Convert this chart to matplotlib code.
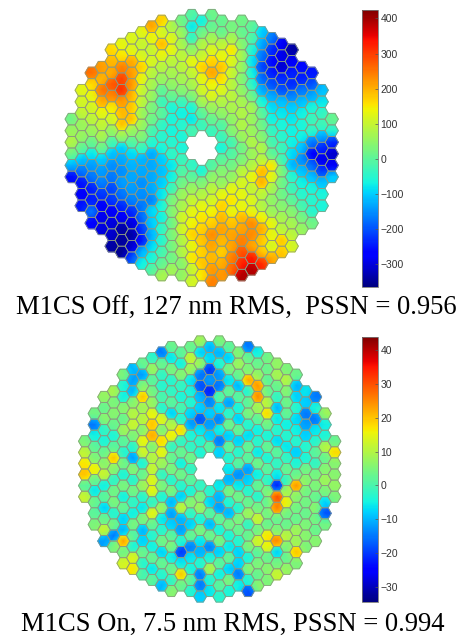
import numpy as np
import matplotlib
matplotlib.use("Agg")
import matplotlib.pyplot as plt
from matplotlib.collections import PolyCollection
from matplotlib.colors import Normalize, ListedColormap
from matplotlib.cm import ScalarMappable
from matplotlib.tri import Triangulation

nan = float("nan")

# half height of every hexagon column, column 0 is the middle one
half_height = [11, 11.5, 11, 10.5, 11, 10.5, 10, 9.5, 9, 8.5, 7, 6.5, 5, 2.5]

# M1CS off, nm, one list per column from left to right, top to bottom
off_cols = [
    [20, 60, 80, 20, -120, -260],
    [125, 110, 95, 60, 55, 5, -110, -170, -250, -280, -250],
    [255, 160, 130, 110, 90, 60, 10, -80, -140, -170, -240, -240, -170, -270],
    [215, 195, 250, 205, 130, 95, 75, 20, -100, -140, -160, -220, -280, -290, -300],
    [165, 190, 205, 275, 235, 145, 110, 50, -20, -110, -150, -170, -210, -220, -280, -300, -310, -340],
    [130, 150, 240, 295, 310, 220, 190, 185, 60, -100, -130, -150, -140, -170, -230, -280, -340, -345, -350],
    [120, 125, 205, 215, 220, 195, 180, 185, 55, -5, -90, -120, -130, -140, -160, -230, -300, -340, -310, -200],
    [125, 100, 115, 170, 130, 100, 90, 60, 60, 40, -30, -120, -130, -150, -150, -170, -180, -220, -250, -120, -70],
    [210, 130, 100, 115, 85, 70, 60, 30, 20, -20, -50, -130, -130, -130, -130, -160, -90, -100, -120, -90, -60, -10],
    [170, 110, 190, 130, 85, 60, 0, -30, 0, -40, -50, -60, -100, -110, -100, -80, -60, -70, -40, -50, -20, 5, 70],
    [75, 120, 130, 90, 70, 50, 10, -60, -60, -65, -50, -40, -80, -70, -30, 30, 40, 20, 30, 25, 20, 65],
    [20, 60, 70, 90, 90, 70, 40, -30, -70, -50, -60, -60, -30, -10, 20, 60, 70, 110, 110, 80, 80, 40, 50],
    [-10, -80, -40, 50, 130, 95, 70, 30, -60, -80, -20, nan, nan, -40, 0, 60, 100, 130, 140, 170, 130, 150, 100, 110],
    [-70, 20, 80, 100, 170, 130, 110, 70, 0, -30, nan, nan, nan, -60, 30, 80, 130, 150, 170, 180, 170, 180, 150],
    [15, 10, 70, 120, 170, 210, 140, 120, 60, 10, -30, nan, nan, -10, 50, 90, 110, 140, 170, 230, 210, 190, 220, 240],
    [10, 10, 90, 130, 180, 160, 120, 80, 50, -10, -30, -60, 0, 40, 50, 130, 170, 190, 210, 190, 170, 200, 220],
    [25, 75, 150, 120, 100, 85, 90, 75, 50, 40, -20, -10, 20, 50, 130, 150, 130, 180, 210, 210, 240, 260],
    [20, 10, 40, 70, 60, 40, 50, 70, 80, 80, 60, 20, 30, 90, 115, 130, 130, 190, 210, 240, 280, 320, 390],
    [0, -10, -50, -80, -60, -40, 20, 70, 60, 60, 80, 60, 80, 130, 95, 120, 130, 230, 230, 210, 330, 390],
    [-100, -130, -170, -210, -180, -130, -60, 0, 20, 40, 80, 90, 190, 200, 90, 80, 140, 200, 180, 180, 310],
    [-170, -230, -260, -240, -200, -130, -90, -70, -40, -20, 0, 150, 130, 70, 50, 60, 130, 130, 110, 200],
    [-280, -290, -310, -230, -200, -110, -80, -60, -50, -30, -20, 30, 20, 20, 40, 70, 85, 180, 180],
    [-340, -280, -240, -230, -160, -100, -80, -70, -70, -90, -120, -50, -30, 0, 40, 70, 90, 110],
    [-260, -240, -170, -110, -70, -60, -70, -110, -150, -110, -70, -50, -20, 25, 55],
    [-250, -200, -130, -60, -30, -40, -170, -270, -180, -110, -60, -50, -50, 20],
    [-110, -80, -40, -30, -130, -230, -290, -220, -110, -60, -60],
    [10, -50, -230, -310, -280, -100],
]

# M1CS on, nm
on_cols = [
    [5, 11, 17, 20, 2, 12],
    [4, -15, -5, 2, 5, 16, 3, -6, 3, 2, 5],
    [7, 3, 6, -2, -4, 3, 6, 12, -5, 2, -8, 3, 12, -12],
    [9, 5, 6, 3, -4, 2, 20, 6, -2, 4, 5, -3, 4, -15, 5],
    [5, -4, -5, 6, 3, 8, 2, -3, 4, -4, 5, -5, 3, -8, -10, 23, 4, 13],
    [-10, -12, -10, 6, 10, 12, 5, -3, -12, 6, -3, 4, -2, -5, 5, 2, -4, 14, 17],
    [3, -12, 6, 20, 8, 10, 6, 15, 13, -4, 3, 8, -3, -6, 5, -10, -8, 3, -3, 0],
    [-2, 8, 2, 4, 7, 15, 20, 22, 5, 10, 12, 14, 15, -2, 15, 3, -3, -5, 3, -6, 2],
    [-15, 3, -2, -3, 0, -3, 14, 5, 18, 15, 8, -2, 5, -4, 8, -6, -3, 4, -8, 3, -3, -10],
    [3, -6, 5, -3, -2, 2, -8, 10, 16, -2, 3, 5, -3, 5, -10, -12, -8, 2, 5, -5, 3, -2, 6],
    [2, -5, 6, -2, -4, 0, -3, 18, -2, 3, -5, 4, -3, -8, 12, -10, -12, -3, -20, -6, 20, 3],
    [3, 12, 8, -6, -4, -3, -8, -12, -4, -2, 4, -2, 2, -4, 6, -2, -8, 3, -14, -6, -4, 2, -3],
    [8, -8, 8, -15, -18, -10, -8, -18, -6, -3, -4, nan, nan, -2, 5, 8, -4, 5, -6, -10, -3, -15, -15, -8],
    [-10, -7, -20, -12, -22, -14, -8, -12, -8, 2, nan, nan, nan, -3, -8, 2, -10, 4, -14, -4, 10, -3, -6],
    [5, -10, -3, -12, -15, 2, -6, -14, -5, -15, -8, nan, nan, -6, -10, -12, 3, -4, 5, -8, 2, -5, 2, -3],
    [2, -8, 5, -6, 3, -12, -2, 4, -8, 3, -3, -6, -10, 5, -3, -10, 4, -4, -6, 3, -8, 5, -4],
    [6, 8, 3, -10, 2, -4, -8, 3, -8, -3, 2, -13, -6, 4, -3, 5, 3, -3, -8, -8, -15, -5],
    [-15, 3, 5, 22, -3, 2, 5, -3, -7, 3, 2, -12, -8, -3, 3, 8, -2, 3, 5, -4, 6, -3, -18],
    [-5, 3, 7, 24, 25, 8, 2, -5, -3, -6, 4, -5, 3, -3, 4, 12, 4, 13, 2, 5, 3, 6],
    [4, 3, 2, 3, 10, 18, 4, -4, 3, -4, 2, -2, 5, 3, 4, 3, 17, 15, 3, 6, 5],
    [7, 9, 3, -2, -10, -6, -3, -7, 2, -2, -6, -22, 30, 26, 3, 5, 25, -8, 4, 12],
    [5, 10, 6, 4, 3, -5, -3, -6, -2, 3, -1, 8, 15, 4, 3, 10, 5, 3, 7],
    [3, -10, -8, -3, -7, -5, -3, -8, -4, 3, 24, 6, 4, 3, 8, 8, 20, 5],
    [-6, -8, -15, -12, -8, -3, -4, 4, 6, 4, 4, 3, 5, 6, 5],
    [-15, -4, -15, -6, -3, 2, -2, 4, 5, 3, 6, 4, 3, 6],
    [8, -5, -4, 10, 3, 6, 8, 5, -8, -18, 4],
    [3, 18, 6, 6, 7, 5],
]

off_ticks = [-300, -200, -100, 0, 100, 200, 300, 400]
on_ticks = [-30, -20, -10, 0, 10, 20, 30, 40]
off_lim = (-365, 424)
on_lim = (-34.3, 43.9)
off_caption = "M1CS Off, 127 nm RMS,  PSSN = 0.956"
on_caption = "M1CS On, 7.5 nm RMS, PSSN = 0.994"

W, H = 461, 640
fig = plt.figure(figsize=(W / 100, H / 100), dpi=100)

# jet, a little duller in the green like the reference
jet = plt.get_cmap("jet")(np.linspace(0, 1, 256))
jet[:, 1] *= 0.96
soft_jet = ListedColormap(jet)


def px_axes(x0, y0, x1, y1):
    return fig.add_axes([x0 / W, 1 - y1 / H, (x1 - x0) / W, (y1 - y0) / H])


def draw_map(cols, lim, cx, cy, dx, dy, own):
    ax = px_axes(cx - 14 * dx, cy - 12.5 * dy, cx + 14 * dx, cy + 12.5 * dy)
    hexagon = np.array([[-2 / 3, 0], [-1 / 3, -0.5], [1 / 3, -0.5], [2 / 3, 0], [1 / 3, 0.5], [-1 / 3, 0.5]])
    polys, vals = [], []
    for i, col in zip(range(-13, 14), cols):
        top = half_height[abs(i)]
        for k, v in enumerate(col):
            if np.isnan(v):
                continue
            polys.append(hexagon + [i, k - top])
            vals.append(v)
    polys = np.array(polys)
    vals = np.array(vals, dtype=float)

    # soft shading: each corner leans towards the hexagons that meet there
    corners = {}
    for p, v in zip(polys, vals):
        for c in p:
            corners.setdefault(tuple(np.round(c, 3)), []).append(v)
    xs, ys, zs, tris = [], [], [], []
    for p, v in zip(polys, vals):
        start = len(xs)
        mid = p.mean(axis=0)
        xs.append(mid[0])
        ys.append(mid[1])
        zs.append(v)
        for c in p:
            xs.append(c[0])
            ys.append(c[1])
            zs.append(own * v + (1 - own) * np.mean(corners[tuple(np.round(c, 3))]))
        for n in range(6):
            tris.append([start, start + 1 + n, start + 1 + (n + 1) % 6])
    ax.tripcolor(Triangulation(xs, ys, tris), zs, shading="gouraud", cmap=soft_jet, norm=Normalize(*lim))

    pc = PolyCollection(polys, facecolors="none", edgecolors="#8d9a80", linewidths=0.55)
    ax.add_collection(pc)
    ax.set_xlim(-14, 14)
    ax.set_ylim(12.5, -12.5)
    ax.axis("off")
    return Normalize(*lim)


def draw_bar(norm, ticks, x0, y0, x1, y1):
    cax = px_axes(x0, y0, x1, y1)
    cb = fig.colorbar(ScalarMappable(norm=norm, cmap=soft_jet), cax=cax)
    cb.set_ticks(ticks)
    cb.ax.tick_params(direction="in", length=2, width=0.5, color="#555555", labelsize=7.5,
                      labelcolor="#333333", pad=2)
    for lab in cb.ax.get_yticklabels():
        lab.set_family("Liberation Sans")
    cb.outline.set_edgecolor("#777777")
    cb.outline.set_linewidth(0.6)


norm1 = draw_map(off_cols, off_lim, 201.7, 148, 10, 11.55, 0.45)
draw_bar(norm1, off_ticks, 362, 10, 377.5, 287)
norm2 = draw_map(on_cols, on_lim, 209.7, 469, 9.6, 11.09, 0.65)
draw_bar(norm2, on_ticks, 362, 336.7, 377.5, 601.7)

fig.text(236 / W, 1 - 308 / H, off_caption, family="Liberation Serif", fontsize=19.2, ha="center", va="center", color="black")
fig.text(233 / W, 1 - 624 / H, on_caption, family="Liberation Serif", fontsize=19.2, ha="center", va="center", color="black")

fig.savefig("out.png", dpi=100)
